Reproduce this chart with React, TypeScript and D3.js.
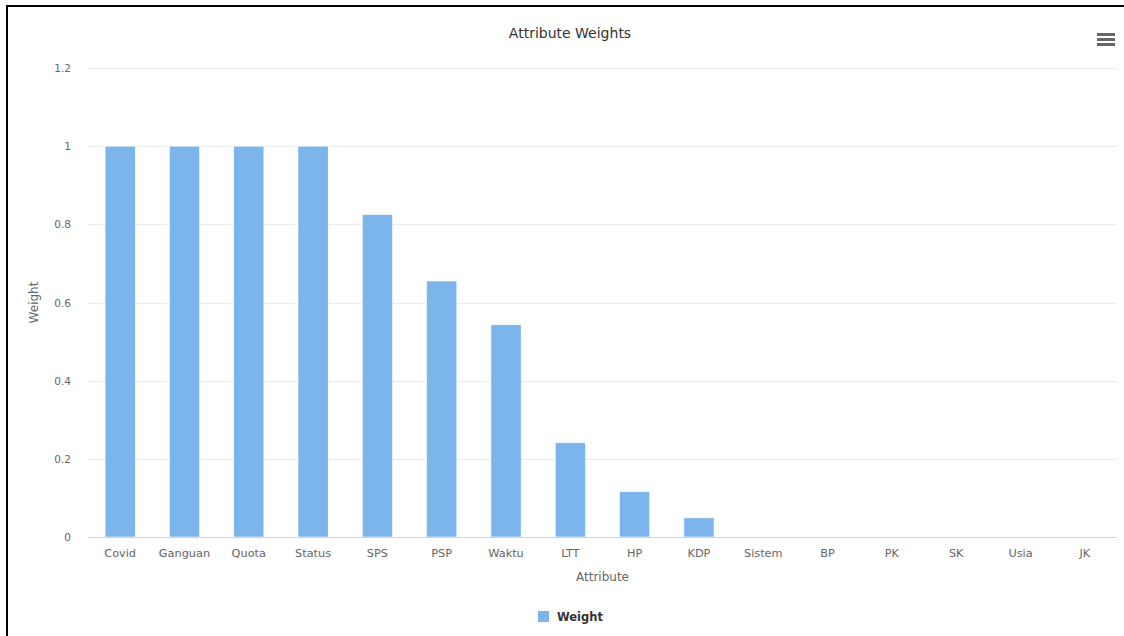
import React from "react";
import * as d3 from "d3";

const categories = ["Covid","Ganguan","Quota","Status","SPS","PSP","Waktu","LTT","HP","KDP","Sistem","BP","PK","SK","Usia","JK"];
const weights = [1, 1, 1, 1, 0.825, 0.655, 0.543, 0.241, 0.116, 0.049, 0, 0, 0, 0, 0, 0];
const yTicks = [0, 0.2, 0.4, 0.6, 0.8, 1, 1.2];
const seriesName = "Weight";

const W = 1124, H = 636;
const left = 88, right = 1117, top = 68, bottom = 537;
const font = "'DejaVu Sans', Verdana, sans-serif";

export default function App() {
  const x = d3.scaleBand<string>().domain(categories).range([left, right]).padding(0);
  const y = d3.scaleLinear().domain([0, 1.2]).range([bottom, top]);
  const bw = x.bandwidth() * 0.47;
  const fmt = (v: number) => d3.format("~g")(v);
  return (
    <svg width={W} height={H} style={{ position: "absolute", left: 0, top: 0, background: "#fff" }} fontFamily={font}>
      <rect x={0} y={0} width={W} height={H} fill="#fff" />
      {/* frame */}
      <line x1={7} y1={5} x2={7} y2={H} stroke="#000" strokeWidth={2} />
      <line x1={6} y1={6} x2={W} y2={6} stroke="#000" strokeWidth={2} />
      <text x={570} y={38} textAnchor="middle" fontSize={14} fill="#333">Attribute Weights</text>
      {/* menu icon */}
      {[0, 1, 2].map(i => (
        <rect key={i} x={1097} y={33 + i * 5} width={18} height={3} fill="#666" />
      ))}
      {/* grid */}
      {yTicks.filter(t => t > 0).map(t => (
        <line key={t} x1={left} x2={right} y1={Math.round(y(t)) + 0.5} y2={Math.round(y(t)) + 0.5} stroke="#ececec" strokeWidth={1} />
      ))}
      {yTicks.map(t => (
        <text key={"l" + t} x={71} y={y(t) + 4} textAnchor="end" fontSize={10.5} fill="#666">{fmt(t)}</text>
      ))}
      <text transform={`translate(38,${(top + bottom) / 2}) rotate(-90)`} textAnchor="middle" fontSize={12} fill="#666">Weight</text>
      {/* bars */}
      {categories.map((c, i) => {
        const cx = (x(c) as number) + x.bandwidth() / 2;
        const h = bottom - y(weights[i]);
        if (h <= 0) return null;
        return <rect key={c} x={cx - bw / 2} y={y(weights[i])} width={bw} height={h} fill="#7cb5ec" stroke="#fff" strokeWidth={0.6} />;
      })}
      <line x1={left} x2={right} y1={bottom + 0.5} y2={bottom + 0.5} stroke="#ccd6eb" strokeWidth={1} />
      {categories.map(c => (
        <text key={"x" + c} x={(x(c) as number) + x.bandwidth() / 2} y={557} textAnchor="middle" fontSize={11.3} fill="#666">{c}</text>
      ))}
      <text x={(left + right) / 2} y={581} textAnchor="middle" fontSize={12} fill="#666">Attribute</text>
      {/* legend */}
      <rect x={538} y={611} width={11} height={11} fill="#7cb5ec" />
      <text x={557} y={621} fontSize={11.5} fontWeight="bold" fill="#333">{seriesName}</text>
    </svg>
  );
}
